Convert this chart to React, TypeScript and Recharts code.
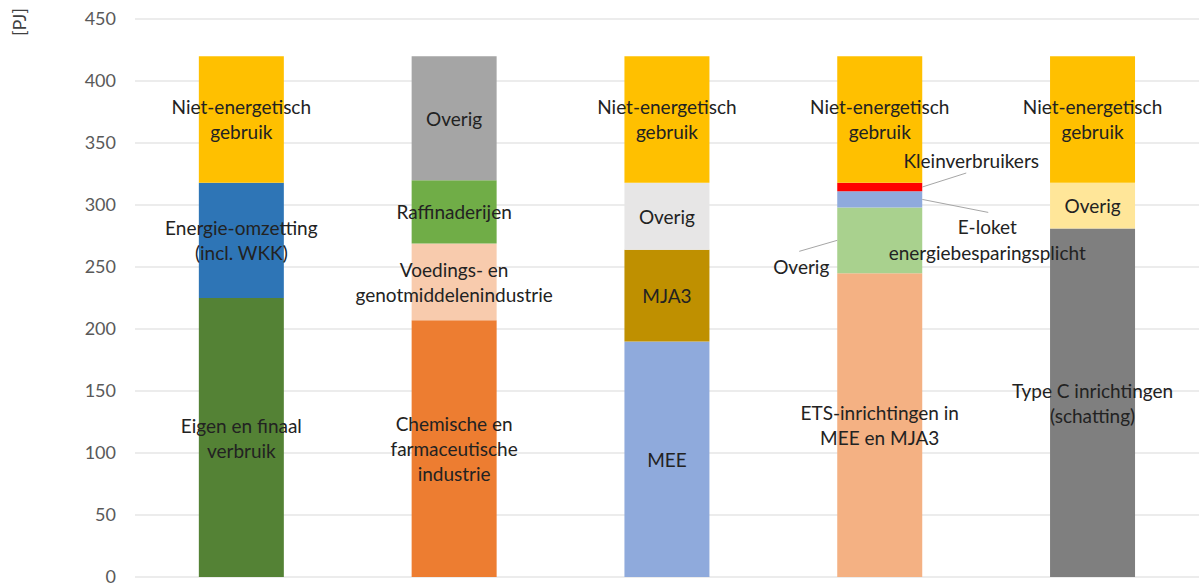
import React from "react";
import { BarChart, Bar, XAxis, YAxis, CartesianGrid, Cell, LabelList } from "recharts";

document.body.style.margin = "0";

// vijf kolommen, van onder naar boven opgebouwd uit lagen
const kolommen = ["Bestemming", "Sector", "Convenant", "ETS", "Type"];

const laag1 = [225, 207, 190, 245, 281];
const laag2 = [93, 62, 74, 53, 37];
const laag3 = [102, 51, 54, 13, 102];
const laag4 = [0, 100, 102, 7, 0];
const laag5 = [0, 0, 0, 102, 0];

const kleur1 = ["#548235", "#ED7D31", "#8FAADC", "#F4B183", "#7F7F7F"];
const kleur2 = ["#2E75B6", "#F8CBAD", "#BF9000", "#A9D18E", "#FFE699"];
const kleur3 = ["#FFC000", "#70AD47", "#E7E6E6", "#8FAADC", "#FFC000"];
const kleur4 = ["#FFC000", "#A5A5A5", "#FFC000", "#FF0000", "#FFC000"];
const kleur5 = ["#FFC000", "#FFC000", "#FFC000", "#FFC000", "#FFC000"];

const label1 = [
  "Eigen en finaal\nverbruik",
  "Chemische en\nfarmaceutische\nindustrie",
  "MEE",
  "ETS-inrichtingen in\nMEE en MJA3",
  "Type C inrichtingen\n(schatting)",
];
const label2 = ["Energie-omzetting\n(incl. WKK)", "Voedings- en\ngenotmiddelenindustrie", "MJA3", "", "Overig"];
const label3 = ["Niet-energetisch\ngebruik", "Raffinaderijen", "Overig", "", "Niet-energetisch\ngebruik"];
const label4 = ["", "Overig", "Niet-energetisch\ngebruik", "", ""];
const label5 = ["", "", "", "Niet-energetisch\ngebruik", ""];

const yTicks = [0, 50, 100, 150, 200, 250, 300, 350, 400, 450];

const lagen = [laag1, laag2, laag3, laag4, laag5];
const kleuren = [kleur1, kleur2, kleur3, kleur4, kleur5];
const labels = [label1, label2, label3, label4, label5];

// labels naast de smalle segmenten van de ETS-kolom (index 3)
const callouts = [
  { laag: 1, tekst: "Overig", kant: "links", lijn: [-38, 11], tekstPos: [-36, 26] },
  { laag: 2, tekst: "E-loket\nenergiebesparingsplicht", kant: "rechts", lijn: [66, 13], tekstPos: [65, 27] },
  { laag: 3, tekst: "Kleinverbruikers", kant: "rechts", lijn: [44, -14], tekstPos: [49, -27] },
];
const calloutKolom = 3;

const data = kolommen.map((k, i) => ({
  kolom: k,
  l1: laag1[i],
  l2: laag2[i],
  l3: laag3[i],
  l4: laag4[i],
  l5: laag5[i],
}));

const FONT = "Lato, 'Open Sans', sans-serif";
const FS = 19;
const LH = 25;

function MultiText({ x, y, tekst }: { x: number; y: number; tekst: string }) {
  const regels = tekst.split("\n");
  return (
    <text x={x} textAnchor="middle" fontFamily={FONT} fontSize={FS} fill="#222">
      {regels.map((r, i) => (
        <tspan key={i} x={x} y={y + (i - (regels.length - 1) / 2) * LH} dominantBaseline="central">
          {r}
        </tspan>
      ))}
    </text>
  );
}

function topLaag(i: number) {
  let t = 0;
  lagen.forEach((l, n) => {
    if (l[i] > 0) t = n;
  });
  return t;
}

// LabelList slaat lege segmenten over, dus de index terugrekenen naar de kolom
function kolomIndex(laagIdx: number, p: any) {
  const pl = p.payload;
  if (pl && pl.kolom) return kolommen.indexOf(pl.kolom);
  const gevuld = lagen[laagIdx].map((v, i) => (v > 0 ? i : -1)).filter((i) => i >= 0);
  return gevuld[p.index];
}

function makeLabel(laagIdx: number) {
  return (p: any) => {
    const vb = p.viewBox ?? p;
    const { x, y, width, height } = vb;
    if (p.index == null || x == null) return null;
    const i = kolomIndex(laagIdx, p);
    if (i == null || i < 0) return null;
    const els: React.ReactNode[] = [];
    const tekst = labels[laagIdx][i];
    if (tekst) {
      els.push(<MultiText key="m" x={x + width / 2} y={y + height / 2} tekst={tekst} />);
    }
    // callouts tekenen vanuit de bovenste laag zodat ze boven alle segmenten liggen
    if (i === calloutKolom && laagIdx === topLaag(i) && height > 0) {
      const k = height / lagen[laagIdx][i];
      const totaal = lagen.reduce((s, l) => s + l[i], 0);
      callouts.forEach((c, n) => {
        let onder = 0;
        for (let j = 0; j < c.laag; j++) onder += lagen[j][i];
        const midden = onder + lagen[c.laag][i] / 2;
        const cy = y + (totaal - midden) * k;
        const ex = c.kant === "rechts" ? x + width : x;
        els.push(
          <line
            key={"l" + n}
            x1={ex}
            y1={cy}
            x2={ex + c.lijn[0]}
            y2={cy + c.lijn[1]}
            stroke="#A6A6A6"
            strokeWidth={1}
          />
        );
        const regels = c.tekst.split("\n");
        els.push(
          <text key={"t" + n} textAnchor="middle" fontFamily={FONT} fontSize={FS} fill="#222">
            {regels.map((r, m) => (
              <tspan key={m} x={ex + c.tekstPos[0]} y={cy + c.tekstPos[1] + m * 26} dominantBaseline="central">
                {r}
              </tspan>
            ))}
          </text>
        );
      });
    }
    return <g>{els}</g>;
  };
}

export default function App() {
  return (
    <div style={{ position: "relative", width: 1203, height: 585, background: "#fff" }}>
      <div
        style={{
          position: "absolute",
          left: 19,
          top: 22,
          transform: "translate(-50%, -50%) rotate(-90deg)",
          fontFamily: FONT,
          fontSize: 18,
          color: "#404040",
          whiteSpace: "nowrap",
        }}
      >
        [PJ]
      </div>
      <BarChart
        width={1203}
        height={585}
        data={data}
        margin={{ top: 19, right: 4, bottom: 8, left: 0 }}
        barCategoryGap="30%"
      >
        <CartesianGrid vertical={false} stroke="#D9D9D9" />
        <XAxis dataKey="kolom" hide />
        <YAxis
          width={135}
          domain={[0, 450]}
          ticks={yTicks}
          interval={0}
          axisLine={false}
          tickLine={false}
          tickSize={6}
          tickMargin={13}
          tick={{ fontFamily: FONT, fontSize: 18, fill: "#595959" }}
        />
        {lagen.map((_, n) => (
          <Bar key={n} dataKey={"l" + (n + 1)} stackId="a" isAnimationActive={false}>
            {data.map((_, i) => (
              <Cell key={i} fill={kleuren[n][i]} />
            ))}
            <LabelList dataKey={"l" + (n + 1)} content={makeLabel(n)} />
          </Bar>
        ))}
      </BarChart>
    </div>
  );
}
